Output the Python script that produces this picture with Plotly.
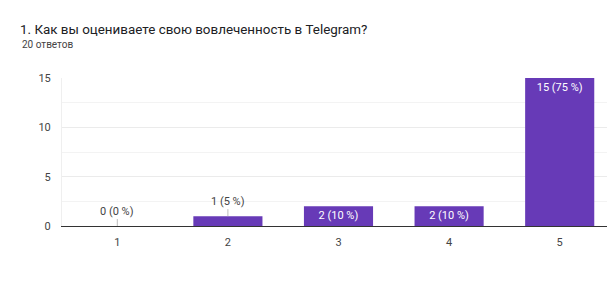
import plotly.graph_objects as go

categories = ["1", "2", "3", "4", "5"]
counts = [0, 1, 2, 2, 15]
percents = [0, 5, 10, 10, 75]
y_ticks = [0, 5, 10, 15]

title_text = "1. Как вы оцениваете свою вовлеченность в Telegram?"
subtitle_text = "20 ответов"

labels = [f"{c} ({p} %)" for c, p in zip(counts, percents)]
inside_min = 2
inside_text = [l if c >= inside_min else "" for l, c in zip(labels, counts)]

W, H = 607, 280
T, B, L = 70, 62, 54
plot_h = H - T - B

fig = go.Figure()
fig.add_trace(go.Bar(
    x=categories, y=counts,
    marker=dict(color="#673ab7", line=dict(width=0)),
    width=0.625,
    text=inside_text,
    textposition="inside",
    insidetextanchor="end",
    textangle=0,
    constraintext="none",
    textfont=dict(color="#ffffff", size=11, family="Roboto"),
    hoverinfo="skip",
))

for i, (c, l) in enumerate(zip(counts, labels)):
    if c < inside_min:
        fig.add_annotation(
            x=i, y=c, text=l, showarrow=True, arrowhead=0, arrowwidth=1,
            arrowcolor="#bdbdbd", ax=0, ay=-15, standoff=0,
            font=dict(size=11, color="#444444", family="Roboto"),
        )

fig.add_annotation(text=subtitle_text, xref="paper", yref="paper",
                   x=-(L - 12) / (W - L), y=1 + (T - 37) / plot_h,
                   xanchor="left", yanchor="middle", showarrow=False,
                   font=dict(size=10, color="#444444", family="Roboto"))

fig.update_layout(
    width=W, height=H,
    margin=dict(l=L, r=0, t=T, b=B),
    plot_bgcolor="#ffffff", paper_bgcolor="#ffffff",
    showlegend=False,
    font=dict(family="Roboto", size=11, color="#444444"),
    title=dict(text=title_text, x=12 / W, xanchor="left", xref="container",
               y=1 - 21 / H, yanchor="middle", yref="container",
               font=dict(size=13.4, color="#202124", family="Roboto")),
    bargap=0.375,
)

fig.update_yaxes(range=[0, 15], tickvals=y_ticks, showgrid=True, gridcolor="#ebebeb",
                 zeroline=False, showline=True, linecolor="#efefef", linewidth=1,
                 ticks="", ticklabelstandoff=8,
                 minor=dict(dtick=2.5, showgrid=True, gridcolor="#f3f3f3", ticks=""),
                 tickfont=dict(size=11, color="#444444"), fixedrange=True)
fig.update_xaxes(type="category", showline=True, linecolor="#333333", linewidth=1, ticks="",
                 tickfont=dict(size=11, color="#444444"), ticklabelstandoff=6,
                 fixedrange=True)

fig.write_html("out.html")
